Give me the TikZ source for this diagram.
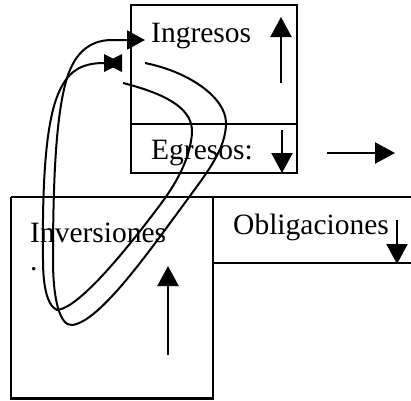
\documentclass[tikz,border=0pt]{standalone}
\usepackage{fontspec}
\setmainfont{Liberation Serif}
\usetikzlibrary{arrows.meta}
\tikzset{
  boxline/.style={line width=2.2pt},
  loopline/.style={line width=2pt},
  arr/.style={line width=2.2pt,-{Triangle[length=20pt,width=21pt]}},
  lbl/.style={anchor=base west,inner sep=0pt,font=\fontsize{29.5}{31}\selectfont},
}
\begin{document}
\begin{tikzpicture}[x=1pt,y=-1pt]
\useasboundingbox (0,0) rectangle (411,400);
% boxes
\draw[boxline] (131,5) rectangle (297,173);
\draw[boxline] (131,124) -- (297,124);
\draw[boxline] (11,197) -- (411,197);
\draw[boxline] (11,197) -- (11,398.5) -- (213,398.5) -- (213,197);
\draw[boxline] (213,263) -- (411,263);
% labels
\node[lbl] (ing) at (151,42) {Ingresos};
\node[lbl] (egr) at (151,159) {Egresos:};
\node[lbl] (inv) at (30,242) {Inversiones};
\node[lbl] (dot) at (30,270) {.};
\node[lbl] (obl) at (233,234) {Obligaciones};
% straight arrows
\coordinate (a1s) at (281,83);  \coordinate (a1e) at (281,17);
\coordinate (a2s) at (282,130); \coordinate (a2e) at (282,173);
\coordinate (a3s) at (327,153); \coordinate (a3e) at (395,153);
\coordinate (a4s) at (168,355); \coordinate (a4e) at (168,266);
\coordinate (a5s) at (397,220); \coordinate (a5e) at (397,264);
\draw[arr] (a1s) -- (a1e);
\draw[arr] (a2s) -- (a2e);
\draw[arr] (a3s) -- (a3e);
\draw[arr] (a4s) -- (a4e);
\draw[arr] (a5s) -- (a5e);
% loop 1 (ends with arrowhead into Ingresos)
\coordinate (l1s) at (145,63);
\coordinate (l1e) at (145,40);
\draw[loopline,-{Triangle[length=18pt,width=19pt]}] (l1s)
  .. controls (190,72) and (226,98) .. (226,123)
  .. controls (226,150) and (205,175) .. (187,200)
  .. controls (150,250) and (100,322) .. (72,325)
  .. controls (60,326) and (53,300) .. (53,260)
  .. controls (53,180) and (56,110) .. (68,75)
  .. controls (75,55) and (88,40) .. (112,40)
  -- (l1e);
% loop 2 (ends with bow-tie mark)
\coordinate (l2s) at (123,83);
\coordinate (l2e) at (104,63);
\draw[loopline] (l2s)
  .. controls (170,95) and (193,110) .. (192,133)
  .. controls (190,160) and (175,185) .. (160,205)
  .. controls (130,245) and (80,308) .. (57,310)
  .. controls (46,305) and (43,282) .. (43,260)
  .. controls (42,170) and (47,112) .. (62,86)
  .. controls (70,71) and (82,63) .. (l2e);
\fill (l2e) ++(0,-9) -- ++(9,4.5) -- ++(9,-4.5) -- ++(0,18) -- ++(-9,-4.5) -- ++(-9,4.5) -- cycle;
\end{tikzpicture}
\end{document}
